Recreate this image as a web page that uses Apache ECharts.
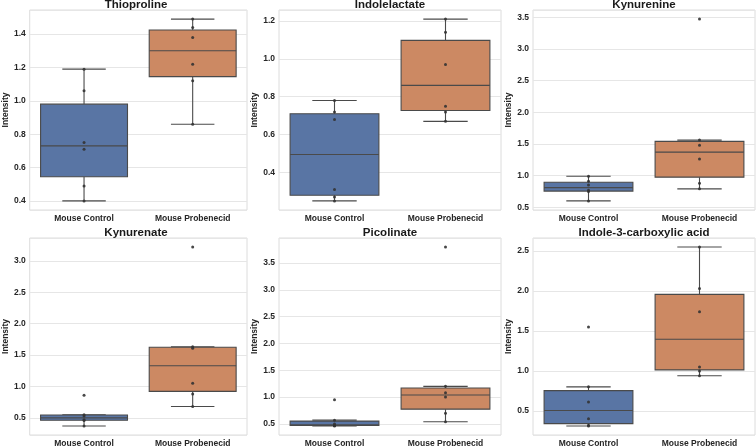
<!DOCTYPE html>
<html>
<head>
<meta charset="utf-8">
<script src="https://cdn.jsdelivr.net/npm/echarts@6/dist/echarts.min.js"></script>
<style>
  html, body { margin: 0; padding: 0; background: #fff; }
  #chart { width: 756px; height: 448px; }
</style>
</head>
<body>
<div id="chart"></div>
<script>
// panels and groups
const metabolites = ['Thioproline', 'Indolelactate', 'Kynurenine', 'Kynurenate', 'Picolinate', 'Indole-3-carboxylic acid'];
const groups = ['Mouse Control', 'Mouse Probenecid'];

// individual samples (strip points)
const pointsControl = [
  [0.40, 0.49, 0.71, 0.75, 1.06, 1.19],
  [0.25, 0.27, 0.31, 0.68, 0.72, 0.78],
  [0.60, 0.75, 0.77, 0.85, 0.91, 0.99],
  [0.37, 0.46, 0.47, 0.53, 0.55, 0.86],
  [0.46, 0.47, 0.47, 0.50, 0.57, 0.95],
  [0.31, 0.32, 0.40, 0.61, 0.80, 1.55]
];
const pointsProbenecid = [
  [0.86, 1.12, 1.22, 1.38, 1.44, 1.49],
  [0.67, 0.72, 0.75, 0.97, 1.14, 1.21],
  [0.79, 0.88, 1.26, 1.48, 1.56, 3.47],
  [0.68, 0.88, 1.05, 1.61, 1.63, 3.22],
  [0.54, 0.70, 1.00, 1.08, 1.20, 3.80],
  [0.94, 1.00, 1.05, 1.74, 2.03, 2.55]
];

// box stats: [whisker low, Q1, median, Q3, whisker high]
const boxControl = [
  [0.40, 0.545, 0.73, 0.98, 1.19],
  [0.25, 0.28, 0.495, 0.71, 0.78],
  [0.60, 0.755, 0.81, 0.895, 0.99],
  [0.37, 0.4625, 0.50, 0.545, 0.55],
  [0.46, 0.47, 0.485, 0.5525, 0.57],
  [0.31, 0.34, 0.505, 0.7525, 0.80]
];
const boxProbenecid = [
  [0.86, 1.145, 1.30, 1.425, 1.49],
  [0.67, 0.7275, 0.86, 1.0975, 1.21],
  [0.79, 0.975, 1.37, 1.54, 1.56],
  [0.68, 0.9225, 1.33, 1.625, 1.63],
  [0.54, 0.775, 1.04, 1.17, 1.20],
  [0.94, 1.0125, 1.395, 1.9575, 2.55]
];

// y tick step per panel
const tickStep = [0.2, 0.2, 0.5, 0.5, 0.5, 0.5];

const boxColors = ['#5975a4', '#cc8963'];
const lineColor = '#4a4a4a';
const font = "'Liberation Sans', Arial, sans-serif";
const panelLeft = [25, 279, 533];
const panelTop = [10, 238];
const panelW = 222, panelH = 200;

function renderBox(params, api) {
  const c = api.value(0);
  const lo = api.coord([c, api.value(1)]);
  const q1 = api.coord([c, api.value(2)]);
  const md = api.coord([c, api.value(3)]);
  const q3 = api.coord([c, api.value(4)]);
  const hi = api.coord([c, api.value(5)]);
  const band = api.size([1, 0])[0];
  const bw = band * 0.8, cw = band * 0.4;
  const x = lo[0];
  const ls = { stroke: lineColor, lineWidth: 1.1 };
  return {
    type: 'group',
    children: [
      { type: 'line', shape: { x1: x, y1: hi[1], x2: x, y2: q3[1] }, style: ls },
      { type: 'line', shape: { x1: x, y1: q1[1], x2: x, y2: lo[1] }, style: ls },
      { type: 'line', shape: { x1: x - cw / 2, y1: hi[1], x2: x + cw / 2, y2: hi[1] }, style: ls },
      { type: 'line', shape: { x1: x - cw / 2, y1: lo[1], x2: x + cw / 2, y2: lo[1] }, style: ls },
      { type: 'rect', shape: { x: x - bw / 2, y: q3[1], width: bw, height: q1[1] - q3[1] },
        style: { fill: boxColors[c], stroke: lineColor, lineWidth: 1.1 } },
      { type: 'line', shape: { x1: x - bw / 2, y1: md[1], x2: x + bw / 2, y2: md[1] }, style: ls }
    ]
  };
}

const grids = [], xAxes = [], yAxes = [], titles = [], series = [];
metabolites.forEach(function (name, i) {
  const col = i % 3, row = Math.floor(i / 3);
  const left = panelLeft[col], top = panelTop[row];
  grids.push({
    left: left, top: top, width: panelW, height: panelH,
    show: true, borderColor: '#dcdcdc', borderWidth: 1, backgroundColor: '#fff'
  });
  titles.push({
    text: name, left: left + panelW / 2, top: top - 11, textAlign: 'center', padding: 0,
    textStyle: { fontFamily: font, fontWeight: 'bold', fontSize: 11.5, color: '#1a1a1a' }
  });
  xAxes.push({
    type: 'category', gridIndex: i, data: groups,
    axisLine: { show: false }, axisTick: { show: false }, splitLine: { show: false },
    axisLabel: { fontFamily: font, fontWeight: 'bold', fontSize: 8.5, color: '#262626', margin: 4 }
  });
  const all = pointsControl[i].concat(pointsProbenecid[i]);
  const lo = Math.min.apply(null, all), hi = Math.max.apply(null, all);
  const pad = (hi - lo) * 0.05;
  yAxes.push({
    type: 'value', gridIndex: i, min: lo - pad, max: hi + pad,
    minInterval: tickStep[i], maxInterval: tickStep[i],
    name: 'Intensity', nameLocation: 'middle', nameGap: 16,
    nameTextStyle: { fontFamily: font, fontWeight: 'bold', fontSize: 8.5, color: '#262626' },
    axisLine: { show: false }, axisTick: { show: false },
    splitLine: { lineStyle: { color: '#e6e6e6', width: 1 } },
    axisLabel: {
      fontFamily: font, fontWeight: 'bold', fontSize: 8.5, color: '#262626', margin: 4,
      showMinLabel: false, showMaxLabel: false,
      formatter: function (v) { return v.toFixed(1); }
    }
  });
  series.push({
    type: 'custom', xAxisIndex: i, yAxisIndex: i,
    renderItem: renderBox,
    encode: { x: 0, y: [1, 2, 3, 4, 5] },
    data: [[0].concat(boxControl[i]), [1].concat(boxProbenecid[i])],
    z: 2, silent: true
  });
  const pts = [];
  pointsControl[i].forEach(function (v) { pts.push([0, v]); });
  pointsProbenecid[i].forEach(function (v) { pts.push([1, v]); });
  series.push({
    type: 'scatter', xAxisIndex: i, yAxisIndex: i,
    data: pts, symbolSize: 3,
    itemStyle: { color: '#333333', opacity: 0.9 },
    z: 5, silent: true
  });
});

const chart = echarts.init(document.getElementById('chart'));
chart.setOption({
  animation: false,
  backgroundColor: '#ffffff',
  title: titles,
  grid: grids,
  xAxis: xAxes,
  yAxis: yAxes,
  series: series
});
</script>
</body>
</html>
